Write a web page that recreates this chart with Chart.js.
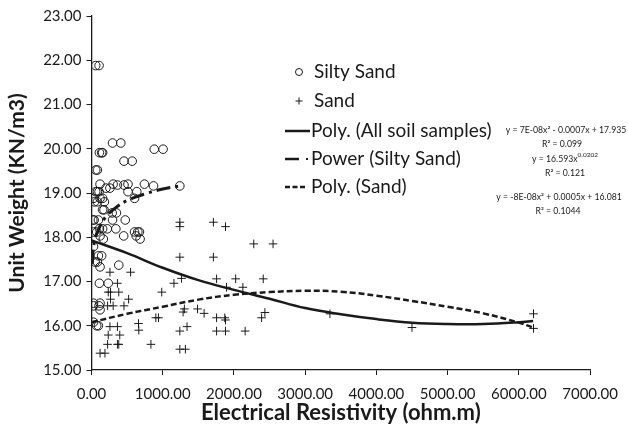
<!DOCTYPE html>
<html>
<head>
<meta charset="utf-8">
<script src="https://cdn.jsdelivr.net/npm/chart.js@4"></script>
<style>
  html, body { margin: 0; padding: 0; background: #fff; }
  #wrap { width: 628px; height: 429px; }
</style>
</head>
<body>
<div id="wrap"><canvas id="chart" width="628" height="429"></canvas></div>
<script>
// Silty Sand samples (open circles)
const siltyX = [59, 106, 295, 411, 881, 1005, 111, 142, 156, 456, 571, 59, 83,
  120, 304, 512, 743, 364, 456, 871, 1240, 203, 259, 59, 83, 106, 512, 636,
  28, 120, 156, 604, 41, 83, 180, 156, 176, 290, 350, 18, 37, 97, 295, 474,
  111, 156, 221, 342, 28, 73, 604, 650, 673, 120, 452, 627, 682, 166, 28,
  97, 142, 51, 83, 383, 120, 111, 235, 28, 120, 28, 106, 120, 28, 73, 97];
const siltyY = [21.88, 21.88, 20.13, 20.13, 19.99, 19.99, 19.91, 19.91, 19.91, 19.72, 19.72, 19.52, 19.52,
  19.20, 19.20, 19.20, 19.20, 19.18, 19.18, 19.16, 19.16, 19.11, 19.11, 19.03, 19.03, 19.03, 19.03, 19.03,
  18.88, 18.88, 18.88, 18.88, 18.80, 18.80, 18.80, 18.62, 18.62, 18.55, 18.55, 18.39, 18.39, 18.39, 18.39, 18.39,
  18.19, 18.19, 18.19, 18.19, 18.12, 18.12, 18.12, 18.12, 18.12, 18.03, 18.03, 18.03, 17.96, 17.96, 17.79,
  17.58, 17.58, 17.44, 17.44, 17.37, 17.33, 16.96, 16.96, 16.51, 16.51, 16.45, 16.45, 16.36, 16.08, 16.00, 16.00];

// Sand samples (plus signs)
const sandX = [1240, 1240, 1711, 1881, 2278, 2549, 1240, 1711, 259, 549, 364, 1157, 1263, 1756, 2024, 2411,
  1895, 2125, 235, 267, 383, 986, 267, 521, 226, 304, 456, 1304, 1286, 1489, 1581, 2434, 2388, 903, 940,
  660, 1756, 1871, 1881, 259, 364, 1341, 664, 1240, 1756, 1881, 2157, 235, 397, 226, 364, 383, 834,
  120, 189, 1240, 1318, 3347, 4499, 6205, 6205];
const sandY = [18.34, 18.24, 18.34, 18.24, 17.85, 17.85, 17.55, 17.55, 17.21, 17.21, 16.96, 16.96, 17.07, 17.06, 17.06, 17.06,
  16.87, 16.87, 16.76, 16.76, 16.76, 16.76, 16.60, 16.60, 16.45, 16.45, 16.45, 16.38, 16.31, 16.38, 16.28, 16.30, 16.18, 16.18, 16.18,
  16.05, 16.18, 16.18, 16.13, 15.98, 15.98, 15.98, 15.90, 15.88, 15.88, 15.88, 15.88, 15.79, 15.79, 15.58, 15.58, 15.58, 15.58,
  15.38, 15.38, 15.47, 15.47, 16.27, 15.96, 16.27, 15.94];

// trend lines
const polyAllX = [0, 500, 1000, 1500, 2000, 2500, 3000, 3500, 4000, 4500, 5000, 5500, 6000, 6200];
const polyAllY = [17.93, 17.64, 17.31, 17.03, 16.81, 16.61, 16.40, 16.26, 16.15, 16.07, 16.04, 16.04, 16.08, 16.11];
const powerX = [10, 20, 50, 100, 200, 350, 500, 750, 1000, 1250];
const powerY = [17.40, 17.65, 17.97, 18.18, 18.46, 18.68, 18.83, 18.98, 19.09, 19.16];
const polySandX = [0, 500, 1000, 1500, 2000, 2500, 3000, 3500, 4000, 4500, 5000, 5500, 6000, 6200];
const polySandY = [16.08, 16.27, 16.43, 16.59, 16.70, 16.76, 16.79, 16.77, 16.68, 16.56, 16.43, 16.28, 16.07, 15.96];

const legendLabels = ['Silty Sand', 'Sand', 'Poly. (All soil samples)', 'Power (Silty Sand)', 'Poly. (Sand)'];

const ink = '#1a1a1a';
const pts = (xs, ys) => xs.map((x, i) => ({ x: x, y: ys[i] }));

const trendLine = (label, xs, ys, width, dash) => ({
  type: 'line',
  label: label,
  data: pts(xs, ys),
  borderColor: ink,
  borderWidth: width,
  borderDash: dash,
  pointRadius: 0,
  fill: false,
  tension: 0.4
});

// legend + equation labels drawn inside the plot
const overlay = {
  id: 'overlay',
  afterDraw(chart) {
    const ctx = chart.ctx;
    ctx.save();
    ctx.fillStyle = ink;
    ctx.strokeStyle = ink;
    ctx.textBaseline = 'middle';
    ctx.textAlign = 'left';
    ctx.font = '19px Lato';
    const rows = [72, 101, 131, 159, 187];

    // markers
    ctx.lineWidth = 1;
    ctx.beginPath();
    ctx.arc(299, rows[0], 3.5, 0, Math.PI * 2);
    ctx.stroke();
    ctx.beginPath();
    ctx.moveTo(295.5, rows[1]); ctx.lineTo(302.5, rows[1]);
    ctx.moveTo(299, rows[1] - 3.5); ctx.lineTo(299, rows[1] + 3.5);
    ctx.stroke();

    ctx.lineWidth = 2.5;
    ctx.beginPath();
    ctx.moveTo(285, rows[2]); ctx.lineTo(310, rows[2]);
    ctx.stroke();

    ctx.beginPath();
    ctx.moveTo(285, rows[3]); ctx.lineTo(299, rows[3]);
    ctx.stroke();
    ctx.fillRect(306, rows[3] - 1, 2, 2);

    ctx.setLineDash([5, 2.5]);
    ctx.beginPath();
    ctx.moveTo(285, rows[4]); ctx.lineTo(307, rows[4]);
    ctx.stroke();
    ctx.setLineDash([]);

    ctx.fillText(legendLabels[0], 314, rows[0]);
    ctx.fillText(legendLabels[1], 314, rows[1]);
    ctx.fillText(legendLabels[2], 311, rows[2]);
    ctx.fillText(legendLabels[3], 311, rows[3]);
    ctx.fillText(legendLabels[4], 311, rows[4]);

    // equations
    ctx.textAlign = 'center';
    ctx.font = '8.7px Lato';
    ctx.fillText('y = 7E-08x² - 0.0007x + 17.935', 566, 130);
    ctx.fillText('R² = 0.099', 562, 144);
    ctx.fillText('R² = 0.121', 565, 173);
    ctx.fillText('y = -8E-08x² + 0.0005x + 16.081', 559, 197);
    ctx.fillText('R² = 0.1044', 558, 211);

    // power equation with raised exponent
    ctx.textAlign = 'left';
    const base = 'y = 16.593x';
    const exp = '0.0202';
    const wBase = ctx.measureText(base).width;
    ctx.font = '6.5px Lato';
    const wExp = ctx.measureText(exp).width;
    const x0 = 565 - (wBase + wExp) / 2;
    ctx.font = '8.7px Lato';
    ctx.fillText(base, x0, 159);
    ctx.font = '6.5px Lato';
    ctx.fillText(exp, x0 + wBase, 155);
    ctx.restore();
  }
};

new Chart(document.getElementById('chart'), {
  type: 'scatter',
  data: {
    datasets: [
      {
        label: legendLabels[0],
        data: pts(siltyX, siltyY),
        pointStyle: 'circle',
        pointRadius: 4.3,
        pointBorderWidth: 1,
        pointBorderColor: ink,
        pointBackgroundColor: 'rgba(0,0,0,0)'
      },
      {
        label: legendLabels[1],
        data: pts(sandX, sandY),
        pointStyle: 'cross',
        pointRadius: 4.3,
        pointBorderWidth: 1,
        pointBorderColor: ink
      },
      trendLine(legendLabels[2], polyAllX, polyAllY, 2.5, []),
      trendLine(legendLabels[3], powerX, powerY, 3, [14, 5, 3, 5]),
      trendLine(legendLabels[4], polySandX, polySandY, 2.5, [6, 3])
    ]
  },
  options: {
    responsive: false,
    animation: false,
    layout: { padding: { left: 0, right: 29, top: 16, bottom: 0 } },
    plugins: {
      legend: { display: false },
      tooltip: { enabled: false }
    },
    scales: {
      x: {
        type: 'linear',
        min: 0,
        max: 7000,
        afterFit: (s) => { s.height = 59; },
        border: { display: true, color: ink, width: 1.3 },
        grid: { drawOnChartArea: false, drawTicks: true, tickLength: 5, color: ink },
        ticks: {
          stepSize: 1000,
          padding: 10,
          color: ink,
          font: { family: 'Lato', size: 15 },
          callback: (v) => v.toFixed(2)
        },
        title: {
          display: true,
          text: 'Electrical Resistivity (ohm.m)',
          color: ink,
          font: { family: 'Lato', size: 22, weight: 'bold' },
          padding: { top: 0, bottom: 3 }
        }
      },
      y: {
        type: 'linear',
        min: 15,
        max: 23,
        afterFit: (s) => { s.width = 91.5; },
        border: { display: true, color: ink, width: 1.3 },
        grid: { drawOnChartArea: false, drawTicks: true, tickLength: 5, color: ink },
        ticks: {
          stepSize: 1,
          padding: 5,
          color: ink,
          font: { family: 'Lato', size: 15 },
          callback: (v) => v.toFixed(2)
        },
        title: {
          display: true,
          text: 'Unit Weight (KN/m3)',
          color: ink,
          font: { family: 'Lato', size: 21, weight: 'bold' },
          padding: { top: 5, bottom: 0 }
        }
      }
    }
  },
  plugins: [overlay]
});
</script>
</body>
</html>
